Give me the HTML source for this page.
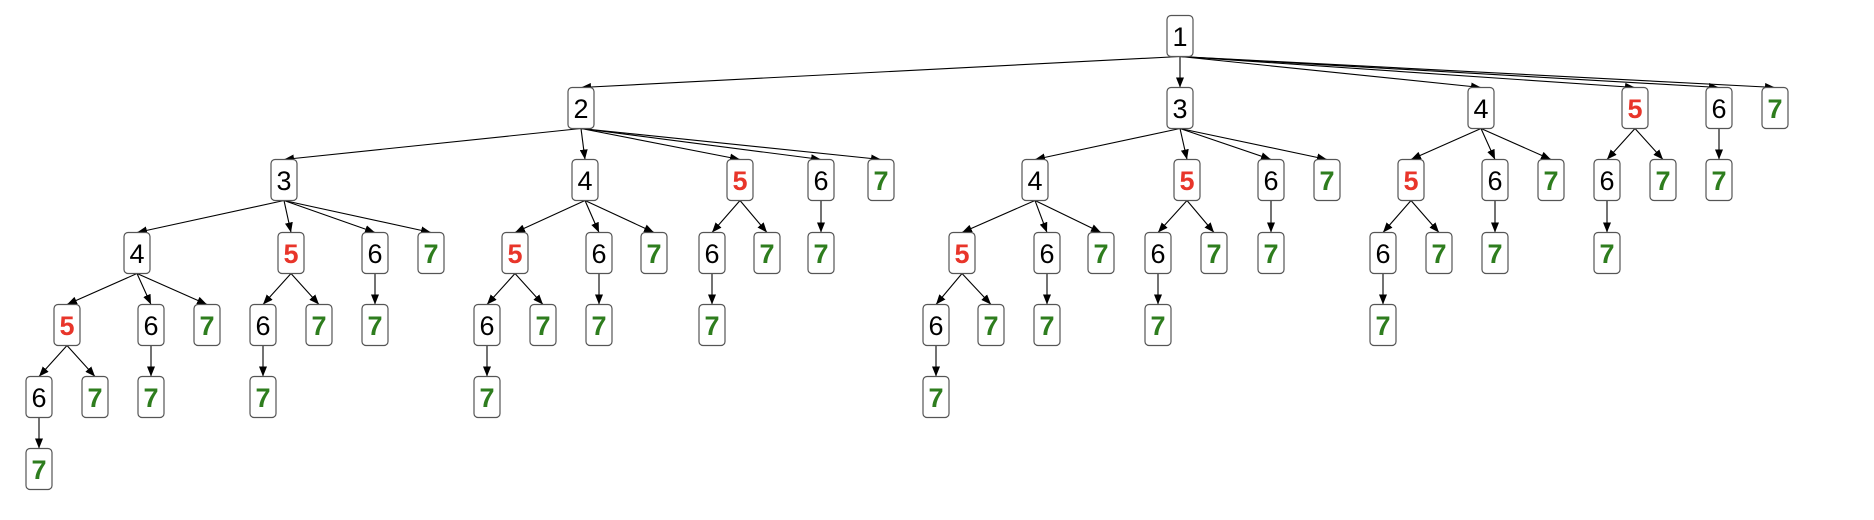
<!DOCTYPE html>
<html><head><meta charset="utf-8"><style>
html,body{margin:0;padding:0;background:#fff;}
svg{display:block;}
rect{fill:#fff;stroke:#555;stroke-width:1.2;}
line{stroke:#000;stroke-width:1.1;}
text{font-family:"Liberation Sans",Arial,sans-serif;font-size:27px;text-anchor:middle;}
.b{fill:#000;}
.r{fill:#e8352a;font-weight:bold;}
.g{fill:#2e7d1e;font-weight:bold;}
</style></head><body>
<svg width="1874" height="520" viewBox="0 0 1874 520" xmlns="http://www.w3.org/2000/svg">
<defs><marker id="a" viewBox="0 0 10 8" refX="10" refY="4" markerWidth="10" markerHeight="8" markerUnits="userSpaceOnUse" orient="auto"><path d="M0,0 L10,4 L0,8 z" fill="#000"/></marker></defs>
<g marker-end="url(#a)">
<line x1="1180" y1="56.5" x2="581" y2="87.5"/><line x1="1180" y1="56.5" x2="1180" y2="87.5"/><line x1="1180" y1="56.5" x2="1481" y2="87.5"/><line x1="1180" y1="56.5" x2="1635" y2="87.5"/><line x1="1180" y1="56.5" x2="1719" y2="87.5"/><line x1="1180" y1="56.5" x2="1775" y2="87.5"/>
<line x1="581" y1="128.5" x2="284" y2="159.5"/><line x1="581" y1="128.5" x2="585" y2="159.5"/><line x1="581" y1="128.5" x2="740" y2="159.5"/><line x1="581" y1="128.5" x2="821" y2="159.5"/><line x1="581" y1="128.5" x2="881" y2="159.5"/>
<line x1="1180" y1="128.5" x2="1035" y2="159.5"/><line x1="1180" y1="128.5" x2="1187" y2="159.5"/><line x1="1180" y1="128.5" x2="1271" y2="159.5"/><line x1="1180" y1="128.5" x2="1327" y2="159.5"/>
<line x1="1481" y1="128.5" x2="1411" y2="159.5"/><line x1="1481" y1="128.5" x2="1495" y2="159.5"/><line x1="1481" y1="128.5" x2="1551" y2="159.5"/>
<line x1="1635" y1="128.5" x2="1607" y2="159.5"/><line x1="1635" y1="128.5" x2="1663" y2="159.5"/><line x1="1719" y1="128.5" x2="1719" y2="159.5"/>
<line x1="284" y1="200.5" x2="137" y2="232.5"/><line x1="284" y1="200.5" x2="291" y2="232.5"/><line x1="284" y1="200.5" x2="375" y2="232.5"/><line x1="284" y1="200.5" x2="431" y2="232.5"/>
<line x1="585" y1="200.5" x2="515" y2="232.5"/><line x1="585" y1="200.5" x2="599" y2="232.5"/><line x1="585" y1="200.5" x2="654" y2="232.5"/>
<line x1="740" y1="200.5" x2="712" y2="232.5"/><line x1="740" y1="200.5" x2="767" y2="232.5"/><line x1="821" y1="200.5" x2="821" y2="232.5"/>
<line x1="1035" y1="200.5" x2="962" y2="232.5"/><line x1="1035" y1="200.5" x2="1047" y2="232.5"/><line x1="1035" y1="200.5" x2="1101" y2="232.5"/>
<line x1="1187" y1="200.5" x2="1158" y2="232.5"/><line x1="1187" y1="200.5" x2="1214" y2="232.5"/><line x1="1271" y1="200.5" x2="1271" y2="232.5"/>
<line x1="1411" y1="200.5" x2="1383" y2="232.5"/><line x1="1411" y1="200.5" x2="1439" y2="232.5"/><line x1="1495" y1="200.5" x2="1495" y2="232.5"/><line x1="1607" y1="200.5" x2="1607" y2="232.5"/>
<line x1="137" y1="273.5" x2="67" y2="304.5"/><line x1="137" y1="273.5" x2="151" y2="304.5"/><line x1="137" y1="273.5" x2="207" y2="304.5"/>
<line x1="291" y1="273.5" x2="263" y2="304.5"/><line x1="291" y1="273.5" x2="319" y2="304.5"/><line x1="375" y1="273.5" x2="375" y2="304.5"/>
<line x1="515" y1="273.5" x2="487" y2="304.5"/><line x1="515" y1="273.5" x2="543" y2="304.5"/><line x1="599" y1="273.5" x2="599" y2="304.5"/><line x1="712" y1="273.5" x2="712" y2="304.5"/>
<line x1="962" y1="273.5" x2="936" y2="304.5"/><line x1="962" y1="273.5" x2="991" y2="304.5"/><line x1="1047" y1="273.5" x2="1047" y2="304.5"/><line x1="1158" y1="273.5" x2="1158" y2="304.5"/><line x1="1383" y1="273.5" x2="1383" y2="304.5"/>
<line x1="67" y1="345.5" x2="39" y2="376.5"/><line x1="67" y1="345.5" x2="95" y2="376.5"/><line x1="151" y1="345.5" x2="151" y2="376.5"/><line x1="263" y1="345.5" x2="263" y2="376.5"/><line x1="487" y1="345.5" x2="487" y2="376.5"/><line x1="936" y1="345.5" x2="936" y2="376.5"/>
<line x1="39" y1="417.5" x2="39" y2="448.5"/>
</g>
<!-- nodes -->
<g>
<rect x="1167" y="15.5" width="26" height="41" rx="4"/><text class="b" x="1180" y="46">1</text>

<rect x="568" y="87.5" width="26" height="41" rx="4"/><text class="b" x="581" y="118">2</text>
<rect x="1167" y="87.5" width="26" height="41" rx="4"/><text class="b" x="1180" y="118">3</text>
<rect x="1468" y="87.5" width="26" height="41" rx="4"/><text class="b" x="1481" y="118">4</text>
<rect x="1622" y="87.5" width="26" height="41" rx="4"/><text class="r" x="1635" y="118">5</text>
<rect x="1706" y="87.5" width="26" height="41" rx="4"/><text class="b" x="1719" y="118">6</text>
<rect x="1762" y="87.5" width="26" height="41" rx="4"/><text class="g" x="1775" y="118">7</text>

<rect x="271" y="159.5" width="26" height="41" rx="4"/><text class="b" x="284" y="190">3</text>
<rect x="572" y="159.5" width="26" height="41" rx="4"/><text class="b" x="585" y="190">4</text>
<rect x="727" y="159.5" width="26" height="41" rx="4"/><text class="r" x="740" y="190">5</text>
<rect x="808" y="159.5" width="26" height="41" rx="4"/><text class="b" x="821" y="190">6</text>
<rect x="868" y="159.5" width="26" height="41" rx="4"/><text class="g" x="881" y="190">7</text>
<rect x="1022" y="159.5" width="26" height="41" rx="4"/><text class="b" x="1035" y="190">4</text>
<rect x="1174" y="159.5" width="26" height="41" rx="4"/><text class="r" x="1187" y="190">5</text>
<rect x="1258" y="159.5" width="26" height="41" rx="4"/><text class="b" x="1271" y="190">6</text>
<rect x="1314" y="159.5" width="26" height="41" rx="4"/><text class="g" x="1327" y="190">7</text>
<rect x="1398" y="159.5" width="26" height="41" rx="4"/><text class="r" x="1411" y="190">5</text>
<rect x="1482" y="159.5" width="26" height="41" rx="4"/><text class="b" x="1495" y="190">6</text>
<rect x="1538" y="159.5" width="26" height="41" rx="4"/><text class="g" x="1551" y="190">7</text>
<rect x="1594" y="159.5" width="26" height="41" rx="4"/><text class="b" x="1607" y="190">6</text>
<rect x="1650" y="159.5" width="26" height="41" rx="4"/><text class="g" x="1663" y="190">7</text>
<rect x="1706" y="159.5" width="26" height="41" rx="4"/><text class="g" x="1719" y="190">7</text>

<rect x="124" y="232.5" width="26" height="41" rx="4"/><text class="b" x="137" y="263">4</text>
<rect x="278" y="232.5" width="26" height="41" rx="4"/><text class="r" x="291" y="263">5</text>
<rect x="362" y="232.5" width="26" height="41" rx="4"/><text class="b" x="375" y="263">6</text>
<rect x="418" y="232.5" width="26" height="41" rx="4"/><text class="g" x="431" y="263">7</text>
<rect x="502" y="232.5" width="26" height="41" rx="4"/><text class="r" x="515" y="263">5</text>
<rect x="586" y="232.5" width="26" height="41" rx="4"/><text class="b" x="599" y="263">6</text>
<rect x="641" y="232.5" width="26" height="41" rx="4"/><text class="g" x="654" y="263">7</text>
<rect x="699" y="232.5" width="26" height="41" rx="4"/><text class="b" x="712" y="263">6</text>
<rect x="754" y="232.5" width="26" height="41" rx="4"/><text class="g" x="767" y="263">7</text>
<rect x="808" y="232.5" width="26" height="41" rx="4"/><text class="g" x="821" y="263">7</text>
<rect x="949" y="232.5" width="26" height="41" rx="4"/><text class="r" x="962" y="263">5</text>
<rect x="1034" y="232.5" width="26" height="41" rx="4"/><text class="b" x="1047" y="263">6</text>
<rect x="1088" y="232.5" width="26" height="41" rx="4"/><text class="g" x="1101" y="263">7</text>
<rect x="1145" y="232.5" width="26" height="41" rx="4"/><text class="b" x="1158" y="263">6</text>
<rect x="1201" y="232.5" width="26" height="41" rx="4"/><text class="g" x="1214" y="263">7</text>
<rect x="1258" y="232.5" width="26" height="41" rx="4"/><text class="g" x="1271" y="263">7</text>
<rect x="1370" y="232.5" width="26" height="41" rx="4"/><text class="b" x="1383" y="263">6</text>
<rect x="1426" y="232.5" width="26" height="41" rx="4"/><text class="g" x="1439" y="263">7</text>
<rect x="1482" y="232.5" width="26" height="41" rx="4"/><text class="g" x="1495" y="263">7</text>
<rect x="1594" y="232.5" width="26" height="41" rx="4"/><text class="g" x="1607" y="263">7</text>

<rect x="54" y="304.5" width="26" height="41" rx="4"/><text class="r" x="67" y="335">5</text>
<rect x="138" y="304.5" width="26" height="41" rx="4"/><text class="b" x="151" y="335">6</text>
<rect x="194" y="304.5" width="26" height="41" rx="4"/><text class="g" x="207" y="335">7</text>
<rect x="250" y="304.5" width="26" height="41" rx="4"/><text class="b" x="263" y="335">6</text>
<rect x="306" y="304.5" width="26" height="41" rx="4"/><text class="g" x="319" y="335">7</text>
<rect x="362" y="304.5" width="26" height="41" rx="4"/><text class="g" x="375" y="335">7</text>
<rect x="474" y="304.5" width="26" height="41" rx="4"/><text class="b" x="487" y="335">6</text>
<rect x="530" y="304.5" width="26" height="41" rx="4"/><text class="g" x="543" y="335">7</text>
<rect x="586" y="304.5" width="26" height="41" rx="4"/><text class="g" x="599" y="335">7</text>
<rect x="699" y="304.5" width="26" height="41" rx="4"/><text class="g" x="712" y="335">7</text>
<rect x="923" y="304.5" width="26" height="41" rx="4"/><text class="b" x="936" y="335">6</text>
<rect x="978" y="304.5" width="26" height="41" rx="4"/><text class="g" x="991" y="335">7</text>
<rect x="1034" y="304.5" width="26" height="41" rx="4"/><text class="g" x="1047" y="335">7</text>
<rect x="1145" y="304.5" width="26" height="41" rx="4"/><text class="g" x="1158" y="335">7</text>
<rect x="1370" y="304.5" width="26" height="41" rx="4"/><text class="g" x="1383" y="335">7</text>

<rect x="26" y="376.5" width="26" height="41" rx="4"/><text class="b" x="39" y="407">6</text>
<rect x="82" y="376.5" width="26" height="41" rx="4"/><text class="g" x="95" y="407">7</text>
<rect x="138" y="376.5" width="26" height="41" rx="4"/><text class="g" x="151" y="407">7</text>
<rect x="250" y="376.5" width="26" height="41" rx="4"/><text class="g" x="263" y="407">7</text>
<rect x="474" y="376.5" width="26" height="41" rx="4"/><text class="g" x="487" y="407">7</text>
<rect x="923" y="376.5" width="26" height="41" rx="4"/><text class="g" x="936" y="407">7</text>

<rect x="26" y="448.5" width="26" height="41" rx="4"/><text class="g" x="39" y="479">7</text>
</g>
</svg>
</body></html>
